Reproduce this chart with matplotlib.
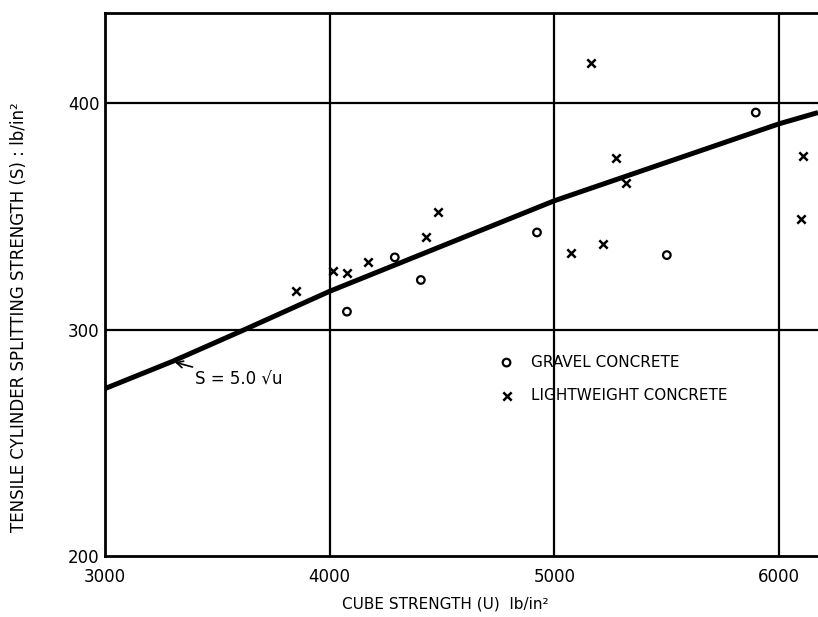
import matplotlib
matplotlib.use("Agg")
import matplotlib.pyplot as plt

# Curve S = 5.0 sqrt(U)
curve_u = [3000, 3300, 3620, 4000, 4500, 5000, 5500, 6000, 6174]
curve_s = [274, 286, 300, 317, 337, 357, 374, 391, 396]

# Gravel concrete (o)
gravel_u = [4077, 4290, 4406, 4923, 5501, 5897]
gravel_s = [308, 332, 322, 343, 333, 396]

# Lightweight concrete (x)
light_u = [3850, 4015, 4077, 4170, 4429, 4482, 5074, 5163, 5216, 5274, 5319, 6097, 6106]
light_s = [317, 326, 325, 330, 341, 352, 334, 418, 338, 376, 365, 349, 377]

x_ticks = [3000, 4000, 5000, 6000]
y_ticks = [200, 300, 400]

fig = plt.figure(figsize=(8.18, 6.17), dpi=100)
ax = fig.add_axes([105/818, 1-556/617, 1-105/818, (556-13)/617])
ax.set_xlim(3000, 6174)
ax.set_ylim(200, 440)

for v in x_ticks[1:]:
    ax.axvline(v, color='black', lw=1.6, zorder=1)
for v in y_ticks[1:]:
    ax.axhline(v, color='black', lw=1.6, zorder=1)

ax.plot(curve_u, curve_s, color='black', lw=3.6, solid_capstyle='butt', zorder=3)
h1 = ax.scatter(gravel_u, gravel_s, marker='o', s=30, facecolors='none',
                edgecolors='black', linewidths=1.6, zorder=4)
h2 = ax.scatter(light_u, light_s, marker='x', s=36, color='black',
                linewidths=1.8, zorder=4)

for side in ['left', 'bottom', 'top']:
    ax.spines[side].set_linewidth(2)
ax.spines['right'].set_visible(False)

ax.set_xticks(x_ticks)
ax.set_yticks(y_ticks)
ax.tick_params(axis='x', length=0, pad=9, labelsize=12)
ax.tick_params(axis='y', length=0, pad=4, labelsize=12)

ax.set_xlabel('CUBE STRENGTH (U)  lb/in²', fontsize=11)
ax.xaxis.set_label_coords(0.477, -0.075)
ax.set_ylabel('TENSILE CYLINDER SPLITTING STRENGTH (S) : lb/in²', fontsize=12)
ax.yaxis.set_label_coords(-0.108, 0.44)

ax.annotate('S = 5.0 √u', xy=(3298, 286), xytext=(3400, 278),
            fontsize=12, va='center', ha='left',
            arrowprops=dict(arrowstyle='->', color='black', lw=1.2))

leg = ax.legend([h1, h2], ['GRAVEL CONCRETE', 'LIGHTWEIGHT CONCRETE'],
                loc='upper left', bbox_to_anchor=(0.531, 0.385), frameon=False,
                fontsize=11, handletextpad=0.6, labelspacing=1.2, borderpad=0)

fig.savefig('out.png', dpi=100)
